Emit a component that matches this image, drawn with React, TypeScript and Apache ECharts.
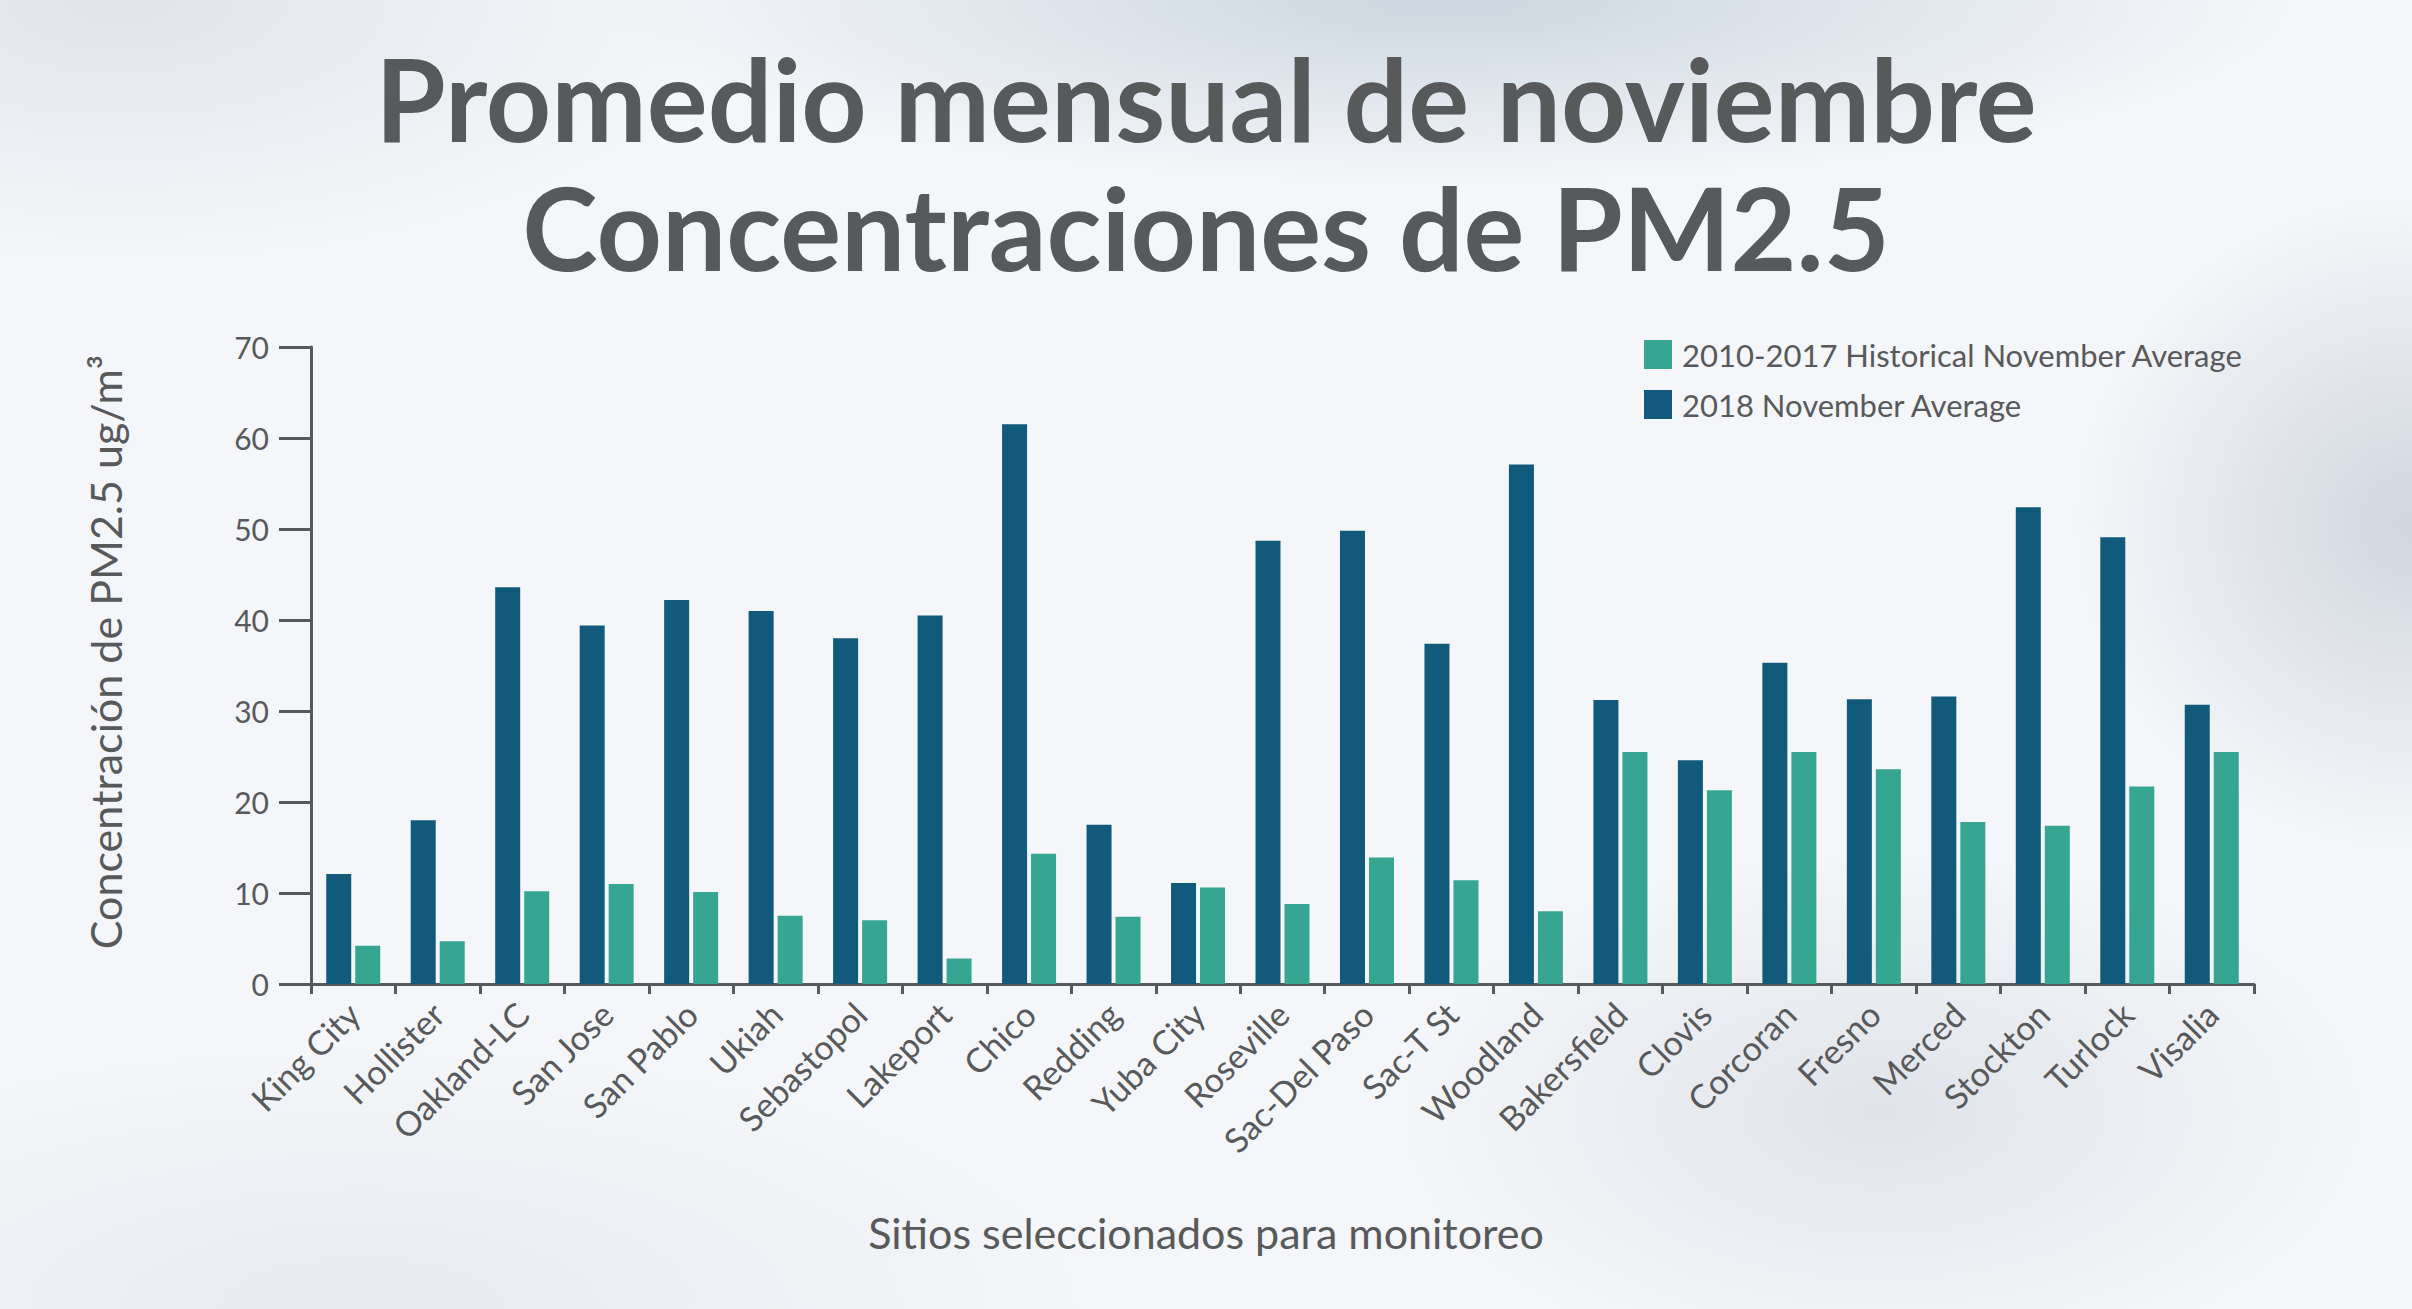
import React, { useEffect, useRef } from "react";
import * as echarts from "echarts";

const categories = [
  "King City", "Hollister", "Oakland-LC", "San Jose", "San Pablo", "Ukiah",
  "Sebastopol", "Lakeport", "Chico", "Redding", "Yuba City", "Roseville",
  "Sac-Del Paso", "Sac-T St", "Woodland", "Bakersfield", "Clovis", "Corcoran",
  "Fresno", "Merced", "Stockton", "Turlock", "Visalia",
];

const avg2018 = [
  12.1, 18.0, 43.6, 39.4, 42.2, 41.0, 38.0, 40.5, 61.5, 17.5, 11.1, 48.7,
  49.8, 37.4, 57.1, 31.2, 24.6, 35.3, 31.3, 31.6, 52.4, 49.1, 30.7,
];

const historical = [
  4.2, 4.7, 10.2, 11.0, 10.1, 7.5, 7.0, 2.8, 14.3, 7.4, 10.6, 8.8,
  13.9, 11.4, 8.0, 25.5, 21.3, 25.5, 23.6, 17.8, 17.4, 21.7, 25.5,
];

const yTicks = { min: 0, max: 70, interval: 10 };

const titleLines = ["Promedio mensual de noviembre", "Concentraciones de PM2.5"];
const yAxisName = "Concentración de PM2.5 ug/m³";
const xAxisName = "Sitios seleccionados para monitoreo";
const seriesNames = ["2018 November Average", "2010-2017 Historical November Average"];

const DARK = "#115a7c";
const TEAL = "#36a693";
const GREY = "#58595b";
const FONT = "Lato, 'Open Sans', sans-serif";

export default function App() {
  const ref = useRef<HTMLDivElement>(null);

  useEffect(() => {
    if (!ref.current) return;
    const chart = echarts.init(ref.current, undefined, { renderer: "svg" });
    chart.setOption({
      animation: false,
      backgroundColor: "transparent",
      textStyle: { fontFamily: FONT },
      grid: { left: 311, right: 158, top: 347, bottom: 325, containLabel: false },
      legend: {
        data: [seriesNames[1], seriesNames[0]],
        orient: "vertical",
        left: 1644,
        top: 339,
        padding: 0,
        itemWidth: 28,
        itemHeight: 29,
        itemGap: 19,
        icon: "rect",
        textStyle: { fontSize: 31, color: GREY, fontFamily: FONT, padding: [0, 0, 0, 5] },
      },
      xAxis: {
        type: "category",
        data: categories,
        axisLine: { show: true, lineStyle: { color: GREY, width: 3 } },
        axisTick: { show: true, length: 10, lineStyle: { color: GREY, width: 3 }, interval: 0 },
        axisLabel: {
          interval: 0,
          rotate: 45,
          margin: 24,
          fontSize: 34,
          color: GREY,
          fontFamily: FONT,
        },
        splitLine: { show: false },
      },
      yAxis: {
        type: "value",
        min: yTicks.min,
        max: yTicks.max,
        interval: yTicks.interval,
        axisLine: { show: true, lineStyle: { color: GREY, width: 3 } },
        axisTick: { show: true, length: 32, lineStyle: { color: GREY, width: 3 } },
        axisLabel: { margin: 42, fontSize: 30, color: GREY, fontFamily: FONT },
        splitLine: { show: false },
      },
      series: [
        {
          name: seriesNames[0],
          type: "bar",
          data: avg2018,
          barWidth: 25,
          barGap: "16%",
          itemStyle: { color: DARK },
        },
        {
          name: seriesNames[1],
          type: "bar",
          data: historical,
          barWidth: 25,
          barGap: "16%",
          itemStyle: { color: TEAL },
        },
      ],
      graphic: [
        {
          type: "text",
          x: 1206,
          y: 97,
          style: {
            text: titleLines[0],
            fontSize: 114,
            fontWeight: "bold",
            fontFamily: FONT,
            fill: GREY,
            align: "center",
            verticalAlign: "middle",
          },
        },
        {
          type: "text",
          x: 1206,
          y: 226,
          style: {
            text: titleLines[1],
            fontSize: 114,
            fontWeight: "bold",
            fontFamily: FONT,
            fill: GREY,
            align: "center",
            verticalAlign: "middle",
          },
        },
        {
          type: "text",
          x: 105,
          y: 652,
          rotation: Math.PI / 2,
          style: {
            text: yAxisName,
            fontSize: 43,
            fontFamily: FONT,
            fill: GREY,
            align: "center",
            verticalAlign: "middle",
          },
        },
        {
          type: "text",
          x: 1206,
          y: 1232,
          style: {
            text: xAxisName,
            fontSize: 43,
            fontFamily: FONT,
            fill: GREY,
            align: "center",
            verticalAlign: "middle",
          },
        },
      ],
    });
    return () => chart.dispose();
  }, []);

  return (
    <div
      style={{
        position: "fixed",
        left: 0,
        top: 0,
        width: 2412,
        height: 1309,
        background:
          "radial-gradient(ellipse 35% 14% at 60% 0%, rgba(190,203,215,0.75), rgba(190,203,215,0) 100%)," +
          "radial-gradient(ellipse 14% 25% at 100% 40%, rgba(185,192,205,0.6), rgba(185,192,205,0) 100%)," +
          "radial-gradient(ellipse 20% 20% at 78% 85%, rgba(200,205,215,0.45), rgba(200,205,215,0) 100%)," +
          "radial-gradient(ellipse 25% 20% at 5% 0%, rgba(205,212,220,0.5), rgba(205,212,220,0) 100%)," +
          "radial-gradient(ellipse 30% 20% at 15% 100%, rgba(210,215,225,0.4), rgba(210,215,225,0) 100%)," +
          "#f4f6f9",
      }}
    >
      <div ref={ref} style={{ width: 2412, height: 1309 }} />
    </div>
  );
}
